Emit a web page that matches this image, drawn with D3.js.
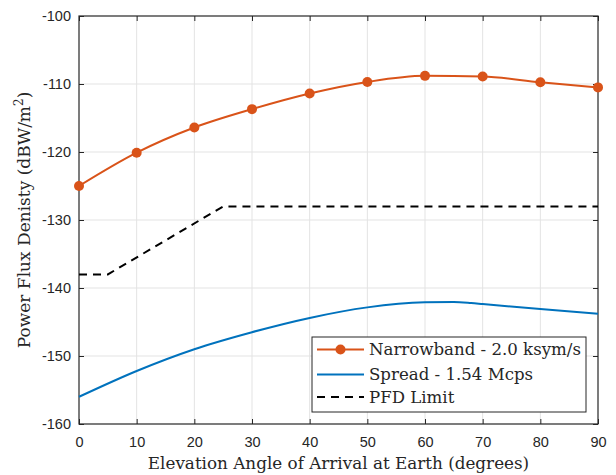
<!DOCTYPE html>
<html>
<head>
<meta charset="utf-8">
<script src="https://cdn.jsdelivr.net/npm/d3@7"></script>
<style>
  html, body { margin: 0; padding: 0; background: #fff; }
  svg { display: block; }
</style>
</head>
<body>
<svg id="chart" width="616" height="475"></svg>
<script>
// Elevation angles (degrees)
const narrowAngles = [0, 10, 20, 30, 40, 50, 60, 70, 80, 90];
// Narrowband - 2.0 ksym/s PFD (dBW/m^2)
const narrowPFD = [-125.0, -120.1, -116.4, -113.7, -111.4, -109.7, -108.8, -108.9, -109.75, -110.5];

const spreadAngles = [0, 10, 20, 30, 40, 50, 60, 65, 68, 70, 80, 90];
// Spread - 1.54 Mcps PFD (dBW/m^2)
const spreadPFD = [-156.0, -152.2, -149.0, -146.5, -144.4, -142.85, -142.1, -142.05, -142.2, -142.35, -143.1, -143.8];

// PFD limit mask
const limitAngles = [0, 5, 25, 90];
const limitPFD = [-138, -138, -128, -128];

const xTicks = [0, 10, 20, 30, 40, 50, 60, 70, 80, 90];
const yTicks = [-160, -150, -140, -130, -120, -110, -100];

const legendLabels = ["Narrowband - 2.0 ksym/s", "Spread - 1.54 Mcps", "PFD Limit"];

const orange = "#D95319", blue = "#0072BD", axisColor = "#262626", gridColor = "#e3e3e3";

const svg = d3.select("#chart");
const m = { left: 79, top: 16, right: 18, bottom: 51 };
const W = 616 - m.left - m.right, H = 475 - m.top - m.bottom;

const x = d3.scaleLinear().domain([0, 90]).range([0, W]);
const y = d3.scaleLinear().domain([-160, -100]).range([H, 0]);

const g = svg.append("g").attr("transform", `translate(${m.left},${m.top})`);

// grid
g.append("g").selectAll("line").data(xTicks.slice(1, -1)).join("line")
  .attr("x1", d => x(d)).attr("x2", d => x(d)).attr("y1", 0).attr("y2", H)
  .attr("stroke", gridColor).attr("stroke-width", 1);
g.append("g").selectAll("line").data(yTicks.slice(1, -1)).join("line")
  .attr("y1", d => y(d)).attr("y2", d => y(d)).attr("x1", 0).attr("x2", W)
  .attr("stroke", gridColor).attr("stroke-width", 1);

// axes (ticks inward, box on)
const tickFont = "'Liberation Sans', Arial, sans-serif";
function styleAxis(sel, showText) {
  sel.select(".domain").remove();
  sel.selectAll(".tick line").attr("stroke", axisColor).attr("stroke-width", 1);
  sel.selectAll(".tick text").attr("fill", axisColor)
    .style("font-family", tickFont).style("font-size", "14.5px");
  if (!showText) sel.selectAll(".tick text").remove();
}
const fmt = d => d < 0 ? "-" + Math.abs(d) : String(d);
const xb = g.append("g").attr("transform", `translate(0,${H})`)
  .call(d3.axisBottom(x).tickValues(xTicks).tickSize(-5).tickPadding(13).tickFormat(fmt));
styleAxis(xb, true);
const xt = g.append("g").call(d3.axisTop(x).tickValues(xTicks).tickSize(-5));
styleAxis(xt, false);
const yl = g.append("g")
  .call(d3.axisLeft(y).tickValues(yTicks).tickSize(-5).tickPadding(8).tickFormat(fmt));
styleAxis(yl, true);
const yr = g.append("g").attr("transform", `translate(${W},0)`)
  .call(d3.axisRight(y).tickValues(yTicks).tickSize(-5));
styleAxis(yr, false);

g.append("rect").attr("x", 0).attr("y", 0).attr("width", W).attr("height", H)
  .attr("fill", "none").attr("stroke", axisColor).attr("stroke-width", 1.2);

// series
const line = d3.line().x(d => x(d[0])).y(d => y(d[1])).curve(d3.curveMonotoneX);
const lin = d3.line().x(d => x(d[0])).y(d => y(d[1]));
const narrow = narrowAngles.map((a, i) => [a, narrowPFD[i]]);
const spread = spreadAngles.map((a, i) => [a, spreadPFD[i]]);
const limit = limitAngles.map((a, i) => [a, limitPFD[i]]);

g.append("path").datum(limit).attr("d", lin).attr("fill", "none")
  .attr("stroke", "#000").attr("stroke-width", 2).attr("stroke-dasharray", "8,6");
g.append("path").datum(spread).attr("d", line).attr("fill", "none")
  .attr("stroke", blue).attr("stroke-width", 2);
g.append("path").datum(narrow).attr("d", line).attr("fill", "none")
  .attr("stroke", orange).attr("stroke-width", 2);
g.append("g").selectAll("circle").data(narrow).join("circle")
  .attr("cx", d => x(d[0])).attr("cy", d => y(d[1])).attr("r", 5).attr("fill", orange);

// axis labels
const serif = "'DejaVu Serif', 'Liberation Serif', serif";
svg.append("text").attr("x", m.left + W / 2).attr("y", 469)
  .attr("text-anchor", "middle").attr("fill", axisColor)
  .style("font-family", serif).style("font-size", "16.8px")
  .text("Elevation Angle of Arrival at Earth (degrees)");

const yLab = svg.append("text").attr("transform", `translate(30,${m.top + H / 2}) rotate(-90)`)
  .attr("text-anchor", "middle").attr("fill", axisColor)
  .style("font-family", serif).style("font-size", "17px");
yLab.append("tspan").text("Power Flux Denisty (dBW/m");
yLab.append("tspan").attr("dy", -7).style("font-size", "12px").text("2");
yLab.append("tspan").attr("dy", 7).text(")");

// legend
const lg = svg.append("g").attr("transform", "translate(312,337)");
lg.append("rect").attr("width", 274).attr("height", 75)
  .attr("fill", "#fff").attr("stroke", axisColor).attr("stroke-width", 1);
const rows = [12.5, 37.5, 60];
const styles = [
  { color: orange, dash: null, marker: true },
  { color: blue, dash: null, marker: false },
  { color: "#000", dash: "8,6", marker: false }
];
legendLabels.forEach((lab, i) => {
  const s = styles[i];
  lg.append("line").attr("x1", 5).attr("x2", 52).attr("y1", rows[i]).attr("y2", rows[i])
    .attr("stroke", s.color).attr("stroke-width", 2)
    .attr("stroke-dasharray", s.dash);
  if (s.marker) lg.append("circle").attr("cx", 28.5).attr("cy", rows[i]).attr("r", 5).attr("fill", s.color);
  lg.append("text").attr("x", 57).attr("y", rows[i]).attr("dy", "0.35em")
    .attr("fill", axisColor).style("font-family", serif).style("font-size", "16.6px").text(lab);
});
</script>
</body>
</html>
